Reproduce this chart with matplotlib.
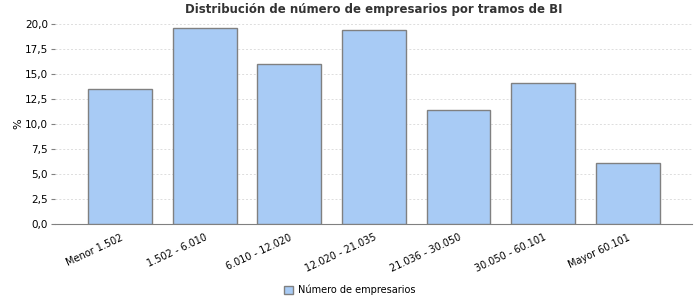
import matplotlib.pyplot as plt
from matplotlib.patches import Patch

categories = ["Menor 1.502", "1.502 - 6.010", "6.010 - 12.020", "12.020 - 21.035",
              "21.036 - 30.050", "30.050 - 60.101", "Mayor 60.101"]
values = [13.5, 19.6, 16.0, 19.4, 11.4, 14.1, 6.1]
yticks = [0, 2.5, 5, 7.5, 10, 12.5, 15, 17.5, 20]
ytick_labels = ["0,0", "2,5", "5,0", "7,5", "10,0", "12,5", "15,0", "17,5", "20,0"]

bar_color = "#a8cbf5"
edge_color = "#808080"

fig = plt.figure(figsize=(7, 3), dpi=100)
ax = fig.add_axes([55 / 700, 1 - 224 / 300, (692 - 55) / 700, 200 / 300])

x = range(len(categories))
ax.bar(x, values, width=0.755, color=bar_color, edgecolor=edge_color, linewidth=1, zorder=3)

ax.set_xlim(-0.77, 6.76)
ax.set_ylim(0, 20)
ax.set_yticks(yticks)
ax.set_yticklabels(ytick_labels, fontsize=7.5)
ax.set_xticks(list(x))
ax.set_xticklabels(categories, fontsize=7, rotation=25, ha="right", rotation_mode="anchor")
ax.tick_params(axis="x", length=0, pad=6)
ax.tick_params(axis="y", length=3, color="#808080", pad=2)

ax.grid(axis="y", color="#dddddd", linestyle=(0, (2, 2)), linewidth=0.7, zorder=0)
for side in ["left", "right", "top"]:
    ax.spines[side].set_visible(False)
ax.spines["bottom"].set_color("#808080")

ax.set_ylabel("%", fontsize=8, labelpad=1)
ax.set_title("Distribución de número de empresarios por tramos de BI",
             fontsize=8.5, fontweight="bold", color="#333333", pad=8)

handle = Patch(facecolor=bar_color, edgecolor=edge_color, label="Número de empresarios")
fig.legend(handles=[handle], loc="center", bbox_to_anchor=(0.5, 1 - 290 / 300), frameon=False,
           fontsize=7, handlelength=0.9, handleheight=0.9, handletextpad=0.5)

fig.savefig("out.png", dpi=100)
